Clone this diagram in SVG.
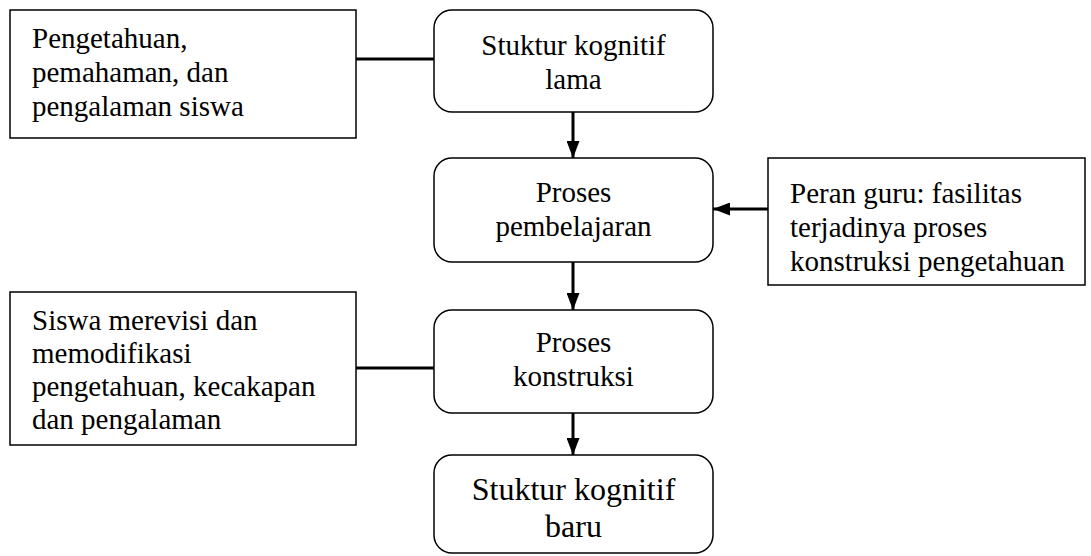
<svg xmlns="http://www.w3.org/2000/svg" width="1091" height="556" viewBox="0 0 1091 556">
<style>
.box{fill:#fff;stroke:#000;stroke-width:1.5}
.t{font-family:"Liberation Serif","Times New Roman",serif;font-size:29px;fill:#000}
.c{text-anchor:middle}
.big{font-size:32px}
.ln{stroke:#000;stroke-width:3;fill:none}
</style>
<defs>
<marker id="ah" viewBox="0 0 17 13" refX="17" refY="6.5" markerWidth="17" markerHeight="13" orient="auto" markerUnits="userSpaceOnUse">
<path d="M0,0 L17,6.5 L0,13 Z" fill="#000"/>
</marker>
</defs>
<rect width="1091" height="556" fill="#fff"/>
<g id="connectors">
<line class="ln" x1="356" y1="59" x2="434" y2="59"/>
<line class="ln" x1="573" y1="112" x2="573" y2="158" marker-end="url(#ah)"/>
<line class="ln" x1="768" y1="209" x2="713" y2="209" marker-end="url(#ah)"/>
<line class="ln" x1="573" y1="262" x2="573" y2="310" marker-end="url(#ah)"/>
<line class="ln" x1="356" y1="368" x2="434" y2="368"/>
<line class="ln" x1="573" y1="413" x2="573" y2="455" marker-end="url(#ah)"/>
</g>
<g id="node-pengetahuan">
<rect class="box" x="10" y="10" width="346" height="128"/>
<text class="t" x="32" y="48">Pengetahuan,</text>
<text class="t" x="32" y="82">pemahaman, dan</text>
<text class="t" x="32" y="116">pengalaman siswa</text>
</g>
<g id="node-struktur-lama">
<rect class="box" x="434" y="10" width="279" height="102" rx="18"/>
<text class="t c" x="573.5" y="55">Stuktur kognitif</text>
<text class="t c" x="573.5" y="89">lama</text>
</g>
<g id="node-proses-pembelajaran">
<rect class="box" x="434" y="158" width="279" height="104" rx="18"/>
<text class="t c" x="573.5" y="202">Proses</text>
<text class="t c" x="573.5" y="236">pembelajaran</text>
</g>
<g id="node-peran-guru">
<rect class="box" x="768" y="158" width="317" height="127"/>
<text class="t" x="790" y="203">Peran guru: fasilitas</text>
<text class="t" x="790" y="237">terjadinya proses</text>
<text class="t" x="790" y="271">konstruksi pengetahuan</text>
</g>
<g id="node-proses-konstruksi">
<rect class="box" x="434" y="310" width="279" height="103" rx="18"/>
<text class="t c" x="573.5" y="352">Proses</text>
<text class="t c" x="573.5" y="386">konstruksi</text>
</g>
<g id="node-siswa">
<rect class="box" x="10" y="292" width="346" height="153"/>
<text class="t" x="32" y="330">Siswa merevisi dan</text>
<text class="t" x="32" y="363">memodifikasi</text>
<text class="t" x="32" y="396">pengetahuan, kecakapan</text>
<text class="t" x="32" y="429">dan pengalaman</text>
</g>
<g id="node-struktur-baru">
<rect class="box" x="434" y="455" width="279" height="98" rx="18"/>
<text class="t c big" x="573.5" y="500">Stuktur kognitif</text>
<text class="t c big" x="573.5" y="537">baru</text>
</g>
</svg>
